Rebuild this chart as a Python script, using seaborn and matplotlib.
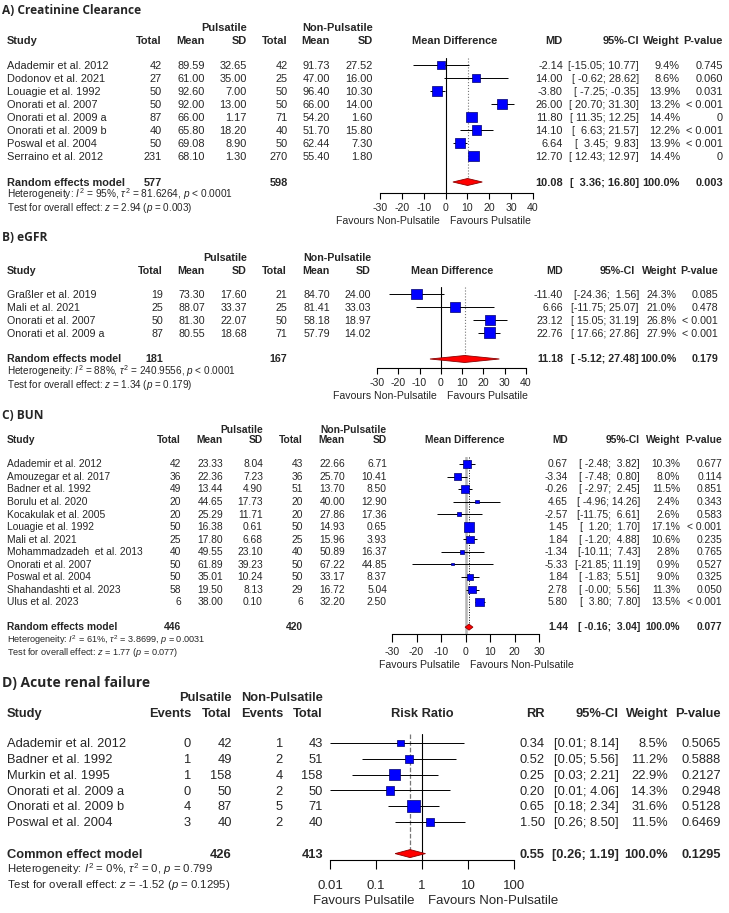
import numpy as np
import pandas as pd
import seaborn as sns
import matplotlib.pyplot as plt

# ---------------- A) Creatinine Clearance ----------------
a_study = ["Adademir et al. 2012", "Dodonov et al. 2021", "Louagie et al. 1992", "Onorati et al. 2007",
           "Onorati et al. 2009 a", "Onorati et al. 2009 b", "Poswal et al. 2004", "Serraino et al. 2012"]
a_n1 = [42, 27, 50, 50, 87, 40, 50, 231]
a_m1 = [89.59, 61.00, 92.60, 92.00, 66.00, 65.80, 69.08, 68.10]
a_sd1 = [32.65, 35.00, 7.00, 13.00, 1.17, 18.20, 8.90, 1.30]
a_n2 = [42, 25, 50, 50, 71, 40, 50, 270]
a_m2 = [91.73, 47.00, 96.40, 66.00, 54.20, 51.70, 62.44, 55.40]
a_sd2 = [27.52, 16.00, 10.30, 14.00, 1.60, 15.80, 7.30, 1.80]
a_md = [-2.14, 14.00, -3.80, 26.00, 11.80, 14.10, 6.64, 12.70]
a_lo = [-15.05, -0.62, -7.25, 20.70, 11.35, 6.63, 3.45, 12.43]
a_hi = [10.77, 28.62, -0.35, 31.30, 12.25, 21.57, 9.83, 12.97]
a_w = [9.4, 8.6, 13.9, 13.2, 14.4, 12.2, 13.9, 14.4]
a_p = ["0.745", "0.060", "0.031", "< 0.001", "0", "< 0.001", "< 0.001", "0"]
a_pool = [10.08, 3.36, 16.80]
a_tot = [577, 598]
a_pval = "0.003"
a_het = r"Heterogeneity: $I^2$ = 95%, $\tau^2$ = 81.6264, $p$ < 0.0001"
a_test = r"Test for overall effect: $z$ = 2.94 ($p$ = 0.003)"

# ---------------- B) eGFR ----------------
b_study = ["Graßler et al. 2019", "Mali et al. 2021", "Onorati et al. 2007", "Onorati et al. 2009 a"]
b_n1 = [19, 25, 50, 87]
b_m1 = [73.30, 88.07, 81.30, 80.55]
b_sd1 = [17.60, 33.37, 22.07, 18.68]
b_n2 = [21, 25, 50, 71]
b_m2 = [84.70, 81.41, 58.18, 57.79]
b_sd2 = [24.00, 33.03, 18.97, 14.02]
b_md = [-11.40, 6.66, 23.12, 22.76]
b_lo = [-24.36, -11.75, 15.05, 17.66]
b_hi = [1.56, 25.07, 31.19, 27.86]
b_w = [24.3, 21.0, 26.8, 27.9]
b_p = ["0.085", "0.478", "< 0.001", "< 0.001"]
b_pool = [11.18, -5.12, 27.48]
b_tot = [181, 167]
b_pval = "0.179"
b_het = r"Heterogeneity: $I^2$ = 88%, $\tau^2$ = 240.9556, $p$ < 0.0001"
b_test = r"Test for overall effect: $z$ = 1.34 ($p$ = 0.179)"

# ---------------- C) BUN ----------------
c_study = ["Adademir et al. 2012", "Amouzegar et al. 2017", "Badner et al. 1992", "Borulu et al. 2020",
           "Kocakulak et al. 2005", "Louagie et al. 1992", "Mali et al. 2021", "Mohammadzadeh  et al. 2013",
           "Onorati et al. 2007", "Poswal et al. 2004", "Shahandashti et al. 2023", "Ulus et al. 2023"]
c_n1 = [42, 36, 49, 20, 20, 50, 25, 40, 50, 50, 58, 6]
c_m1 = [23.33, 22.36, 13.44, 44.65, 25.29, 16.38, 17.80, 49.55, 61.89, 35.01, 19.50, 38.00]
c_sd1 = [8.04, 7.23, 4.90, 17.73, 11.71, 0.61, 6.68, 23.10, 39.23, 10.24, 8.13, 0.10]
c_n2 = [43, 36, 51, 20, 20, 50, 25, 40, 50, 50, 29, 6]
c_m2 = [22.66, 25.70, 13.70, 40.00, 27.86, 14.93, 15.96, 50.89, 67.22, 33.17, 16.72, 32.20]
c_sd2 = [6.71, 10.41, 8.50, 12.90, 17.36, 0.65, 3.93, 16.37, 44.85, 8.37, 5.04, 2.50]
c_md = [0.67, -3.34, -0.26, 4.65, -2.57, 1.45, 1.84, -1.34, -5.33, 1.84, 2.78, 5.80]
c_lo = [-2.48, -7.48, -2.97, -4.96, -11.75, 1.20, -1.20, -10.11, -21.85, -1.83, -0.00, 3.80]
c_hi = [3.82, 0.80, 2.45, 14.26, 6.61, 1.70, 4.88, 7.43, 11.19, 5.51, 5.56, 7.80]
c_w = [10.3, 8.0, 11.5, 2.4, 2.6, 17.1, 10.6, 2.8, 0.9, 9.0, 11.3, 13.5]
c_p = ["0.677", "0.114", "0.851", "0.343", "0.583", "< 0.001", "0.235", "0.765", "0.527", "0.325", "0.050", "< 0.001"]
c_pool = [1.44, -0.16, 3.04]
c_tot = [446, 420]
c_pval = "0.077"
c_het = r"Heterogeneity: $I^2$ = 61%, $\tau^2$ = 3.8699, $p$ = 0.0031"
c_test = r"Test for overall effect: $z$ = 1.77 ($p$ = 0.077)"

# ---------------- D) Acute renal failure ----------------
d_study = ["Adademir et al. 2012", "Badner et al. 1992", "Murkin et al. 1995", "Onorati et al. 2009 a",
           "Onorati et al. 2009 b", "Poswal et al. 2004"]
d_e1 = [0, 1, 1, 0, 4, 3]
d_n1 = [42, 49, 158, 50, 87, 40]
d_e2 = [1, 2, 4, 2, 5, 2]
d_n2 = [43, 51, 158, 50, 71, 40]
d_rr = [0.34, 0.52, 0.25, 0.20, 0.65, 1.50]
d_lo = [0.01, 0.05, 0.03, 0.01, 0.18, 0.26]
d_hi = [8.14, 5.56, 2.21, 4.06, 2.34, 8.50]
d_w = [8.5, 11.2, 22.9, 14.3, 31.6, 11.5]
d_p = ["0.5065", "0.5888", "0.2127", "0.2948", "0.5128", "0.6469"]
d_pool = [0.55, 0.26, 1.19]
d_tot = [426, 413]
d_pval = "0.1295"
d_het = r"Heterogeneity: $I^2$ = 0%, $\tau^2$ = 0, $p$ = 0.799"
d_test = r"Test for overall effect: $z$ = -1.52 ($p$ = 0.1295)"

lin_ticks = [-30, -20, -10, 0, 10, 20, 30, 40]
c_ticks = [-30, -20, -10, 0, 10, 20, 30]
log_ticks = [0.01, 0.1, 1, 10, 100]
log_labels = ["0.01", "0.1", "1", "10", "100"]

sns.set_style("ticks")
plt.rcParams['font.family'] = ['Liberation Sans', 'DejaVu Sans']
plt.rcParams['mathtext.fontset'] = 'custom'
plt.rcParams['mathtext.rm'] = 'Liberation Sans'
plt.rcParams['mathtext.it'] = 'Liberation Sans:italic'
plt.rcParams['mathtext.bf'] = 'Liberation Sans:bold'

W, H = 729, 913
fig = plt.figure(figsize=(W / 100, H / 100), dpi=100)
bg = fig.add_axes([0, 0, 1, 1])
bg.set_xlim(0, W)
bg.set_ylim(H, 0)
bg.axis('off')

TITLE_FONT = ['Open Sans', 'DejaVu Sans']


def txt(x, y, s, ha='left', size=7.9, bold=False, family=None):
    kw = {}
    if family is not None:
        kw['family'] = family
    bg.text(x, y + 0.33 * size * 100 / 72, s, ha=ha, va='baseline', fontsize=size,
            fontweight='bold' if bold else 'normal', **kw)


def forest_ax(x0, x1, xlim, y0, dy, axis_y, ticks, labels, tsize, tlen, tpad, log=False):
    top_idx = -0.55
    top = y0 + top_idx * dy
    ax = fig.add_axes([x0 / W, 1 - axis_y / H, (x1 - x0) / W, (axis_y - top) / H])
    ax.patch.set_alpha(0)
    if log:
        ax.set_xscale('log')
    return ax, (xlim, ((axis_y - y0) / dy, top_idx), ticks, labels, tsize, tlen, tpad)


def finish_ax(ax, spec):
    xlim, ylim, ticks, labels, tsize, tlen, tpad = spec
    ax.set_xlim(xlim)
    ax.set_ylim(ylim)
    for s in ['top', 'right', 'left']:
        ax.spines[s].set_visible(False)
    ax.spines['bottom'].set_linewidth(0.8)
    ax.spines['bottom'].set_color('black')
    ax.minorticks_off()
    ax.set_xticks(ticks)
    ax.set_xticklabels(labels)
    ax.set_yticks([])
    ax.set_xlabel('')
    ax.set_ylabel('')
    ax.tick_params(axis='x', direction='out', length=tlen, width=0.8, pad=tpad, labelsize=tsize,
                   color='black', bottom=True)


def draw_forest(ax, est, lo, hi, w, pool, smax_px, dy, zero, zero_kw, pool_kw, dh=3.5):
    n = len(est)
    rows = np.arange(n)
    ax.axvline(zero, zorder=1, **zero_kw)
    ax.vlines(pool[0], -0.55, n + 1, zorder=1, **pool_kw)
    ax.hlines(rows, lo, hi, color='black', lw=0.7, zorder=2)
    df = pd.DataFrame({'est': est, 'row': rows, 'w': w})
    sns.scatterplot(data=df, x='est', y='row', size='w', size_norm=(0, max(w)),
                    sizes=(0, (smax_px * 0.72) ** 2), marker='s', color='#0000ff',
                    edgecolor='#00006e', linewidth=0.5, legend=False, ax=ax, zorder=3)
    h = dh / dy
    ax.fill([pool[1], pool[0], pool[2], pool[0]], [n + 1, n + 1 - h, n + 1, n + 1 + h],
            facecolor='#ff0000', edgecolor='#8b0000', lw=0.6, zorder=3)


def mean_table(y0, dy, cols, rcols, study, n1, m1, sd1, n2, m2, sd2, md, lo, hi, w, p, size):
    for i in range(len(study)):
        y = y0 + i * dy
        txt(7, y, study[i], size=size)
        vals = [f"{n1[i]}", f"{m1[i]:.2f}", f"{sd1[i]:.2f}", f"{n2[i]}", f"{m2[i]:.2f}", f"{sd2[i]:.2f}"]
        for x, v in zip(cols, vals):
            txt(x, y, v, ha='right', size=size)
        right = [f"{md[i]:.2f}", f"[{lo[i]:6.2f};{hi[i]:6.2f}]", f"{w[i]:.1f}%", p[i]]
        for x, v in zip(rcols, right):
            txt(x, y, v, ha='right', size=size)


def mean_headers(ytitle, title, ygrp, yhead, cols, hcols, center, label, size):
    txt(2, ytitle, title, size=8.6, bold=True, family=TITLE_FONT)
    txt(cols[2], ygrp, "Pulsatile", ha='right', size=size, bold=True)
    txt(cols[5], ygrp, "Non-Pulsatile", ha='right', size=size, bold=True)
    txt(7, yhead, "Study", size=size, bold=True)
    for x, v in zip(cols, ["Total", "Mean", "SD", "Total", "Mean", "SD"]):
        txt(x, yhead, v, ha='right', size=size, bold=True)
    txt(center, yhead, label, ha='center', size=size, bold=True)
    for x, v in zip(hcols, ["MD", "95%-CI", "Weight", "P-value"]):
        txt(x, yhead, v, ha='right', size=size, bold=True)


def summary_row(y, name, cols_tot, tot, rcols, pool, pval, size, ci_fmt):
    txt(7, y, name, size=size, bold=True)
    txt(cols_tot[0], y, f"{tot[0]}", ha='right', size=size, bold=True)
    txt(cols_tot[1], y, f"{tot[1]}", ha='right', size=size, bold=True)
    right = [f"{pool[0]:.2f}", ci_fmt.format(pool[1], pool[2]), "100.0%", pval]
    for x, v in zip(rcols, right):
        txt(x, y, v, ha='right', size=size, bold=True)


# ---------- panel A ----------
cols = [162, 205, 247, 288, 330, 373]
rcols = [563, 639, 680, 723]
mean_headers(10, "A) Creatinine Clearance", 27, 40, cols, rcols, 455, "Mean Difference", 7.9)
mean_table(65, 13, cols, rcols, a_study, a_n1, a_m1, a_sd1, a_n2, a_m2, a_sd2, a_md, a_lo, a_hi, a_w, a_p, 7.9)
summary_row(182, "Random effects model", [cols[0], cols[3]], a_tot, rcols, a_pool, a_pval, 7.9, "[{:6.2f};{:6.2f}]")
txt(7, 195, a_het, size=7.3)
txt(7, 208, a_test, size=7.1)
ax, spec = forest_ax(380, 533, (-30, 40), 65, 13, 193, lin_ticks, [str(t) for t in lin_ticks], 7.6, 4.5, 3)
draw_forest(ax, a_md, a_lo, a_hi, a_w, a_pool, 10.5, 13, 0, dict(color='black', lw=0.8),
            dict(color='#777777', lw=0.8, linestyles=':'))
finish_ax(ax, spec)
txt(440, 221, "Favours Non-Pulsatile", ha='right', size=7.6)
txt(450, 221, "Favours Pulsatile", size=7.6)

# ---------- panel B ----------
cols = [163, 205, 247, 287, 330, 371]
rcols = [563, 639, 677, 718]
hcols = [563, 635, 677, 718]
mean_headers(237, "B) eGFR", 257, 270, cols, hcols, 452, "Mean Difference", 7.65)
mean_table(294, 13, cols, rcols, b_study, b_n1, b_m1, b_sd1, b_n2, b_m2, b_sd2, b_md, b_lo, b_hi, b_w, b_p, 7.65)
summary_row(358, "Random effects model", [cols[0], cols[3]], b_tot, rcols, b_pool, b_pval, 7.65, "[{:6.2f};{:6.2f}]")
txt(7, 372, b_het, size=7.2)
txt(7, 385, b_test, size=7.1)
ax, spec = forest_ax(377, 526, (-30, 40), 294, 13, 368, lin_ticks, [str(t) for t in lin_ticks], 7.6, 4.5, 3)
draw_forest(ax, b_md, b_lo, b_hi, b_w, b_pool, 11, 13, 0, dict(color='black', lw=0.8),
            dict(color='#777777', lw=0.8, linestyles=':'))
finish_ax(ax, spec)
txt(437, 396, "Favours Non-Pulsatile", ha='right', size=7.6)
txt(447, 396, "Favours Pulsatile", size=7.6)

# ---------- panel C ----------
cols = [181, 223, 263, 303, 345, 387]
rcols = [568, 640, 680, 722]
mean_headers(415, "C) BUN", 430, 440, cols, rcols, 465, "Mean Difference", 7.4)
mean_table(464, 12.55, cols, rcols, c_study, c_n1, c_m1, c_sd1, c_n2, c_m2, c_sd2, c_md, c_lo, c_hi, c_w, c_p, 7.4)
summary_row(627, "Random effects model", [cols[0], cols[3]], c_tot, rcols, c_pool, c_pval, 7.4, "[{:6.2f};{:6.2f}]")
txt(7, 640, c_het, size=6.6)
txt(7, 652, c_test, size=6.6)
ax, spec = forest_ax(392, 539, (-30, 30), 464, 12.55, 634, c_ticks, [str(t) for t in c_ticks], 7.6, 5.5, 4)
draw_forest(ax, c_md, c_lo, c_hi, c_w, c_pool, 9.5, 12.55, 0, dict(color='#b5b5b5', lw=1.8),
            dict(color='black', lw=0.7, linestyles=':'), dh=3)
finish_ax(ax, spec)
txt(460, 665, "Favours Pulsatile", ha='right', size=7.6)
txt(470, 665, "Favours Non-Pulsatile", size=7.6)

# ---------- panel D ----------
dcols = [191, 232, 283, 323]
drcols = [545, 619, 668, 721]
ds = 9.3
txt(2, 682, "D) Acute renal failure", size=10, bold=True, family=TITLE_FONT)
txt(dcols[1], 697, "Pulsatile", ha='right', size=ds, bold=True)
txt(dcols[3], 697, "Non-Pulsatile", ha='right', size=ds, bold=True)
txt(7, 713, "Study", size=ds, bold=True)
for x, v in zip(dcols, ["Events", "Total", "Events", "Total"]):
    txt(x, 713, v, ha='right', size=ds, bold=True)
txt(422, 713, "Risk Ratio", ha='center', size=ds, bold=True)
for x, v in zip(drcols, ["RR", "95%-CI", "Weight", "P-value"]):
    txt(x, 713, v, ha='right', size=ds, bold=True)
for i in range(len(d_study)):
    y = 743 + i * 15.8
    txt(7, y, d_study[i], size=ds)
    for x, v in zip(dcols, [d_e1[i], d_n1[i], d_e2[i], d_n2[i]]):
        txt(x, y, str(v), ha='right', size=ds)
    right = [f"{d_rr[i]:.2f}", f"[{d_lo[i]:.2f}; {d_hi[i]:.2f}]", f"{d_w[i]:.1f}%", d_p[i]]
    for x, v in zip(drcols, right):
        txt(x, y, v, ha='right', size=ds)
summary_row(853.6, "Common effect model", [dcols[1], dcols[3]], d_tot, drcols, d_pool, d_pval, ds, "[{:.2f}; {:.2f}]")
txt(7, 869, d_het, size=8.2)
txt(7, 884.5, d_test, size=8.2)
ax, spec = forest_ax(330, 514, (0.01, 100), 743, 15.8, 860, log_ticks, log_labels, 9.5, 6.5, 8, log=True)
draw_forest(ax, d_rr, d_lo, d_hi, d_w, d_pool, 12.5, 15.8, 1, dict(color='black', lw=0.8),
            dict(color='#777777', lw=0.9, linestyles='--'), dh=4)
finish_ax(ax, spec)
txt(415, 900, "Favours Pulsatile", ha='right', size=9.5)
txt(428, 900, "Favours Non-Pulsatile", size=9.5)

fig.savefig("out.png", dpi=100)
